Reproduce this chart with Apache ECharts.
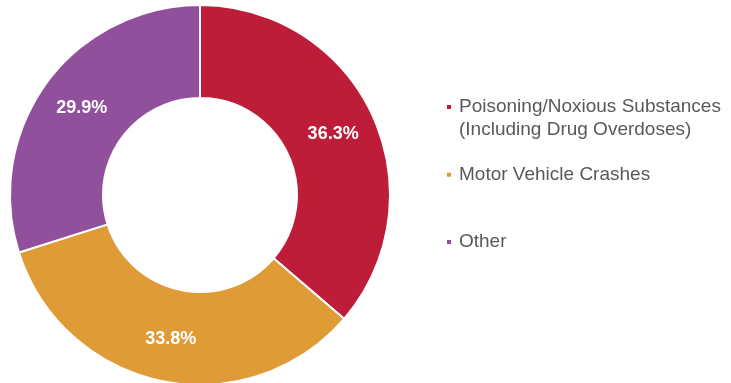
<!DOCTYPE html>
<html><head><meta charset="utf-8">
<script src="https://cdn.jsdelivr.net/npm/echarts@6/dist/echarts.min.js"></script>
<style>html,body{margin:0;padding:0;background:#fff}#c{width:731px;height:383px}</style>
</head><body><div id="c"></div>
<script>
const categories = ['Poisoning/Noxious Substances\n(Including Drug Overdoses)', 'Motor Vehicle Crashes', 'Other'];
const values = [36.3, 33.8, 29.9];
const colors = ['#BD1D39', '#DF9B36', '#91509C'];
const legendTops = [90.5, 158.2, 225.5];

const chart = echarts.init(document.getElementById('c'), null, {renderer: 'canvas'});
const legends = categories.map((name, i) => {
  const multi = name.indexOf('\n') >= 0;
  return {
    data: [name],
    left: 440,
    top: legendTops[i],
    orient: 'vertical',
    icon: multi ? 'path://M0,0L6,0L6,6L0,6Z M0,28.99L0.01,28.99L0.01,29L0,29Z' : 'rect',
    itemWidth: 6,
    itemHeight: multi ? 29 : 6,
    itemGap: 0,
    selectedMode: false,
    textStyle: {fontFamily: 'Liberation Sans, Arial, sans-serif', fontSize: 19, color: '#595959', lineHeight: 23, padding: [0,0,0,2]}
  };
});
chart.setOption({
  animation: false,
  legend: legends,
  series: [{
    type: 'pie',
    center: [200, 195],
    radius: [97, 190],
    startAngle: 90,
    clockwise: true,
    avoidLabelOverlap: false,
    itemStyle: {borderColor: '#fff', borderWidth: 2},
    label: {
      show: true, position: 'inside',
      formatter: p => p.value.toFixed(1) + '%',
      color: '#fff', fontFamily: 'Liberation Sans, Arial, sans-serif',
      fontWeight: 'bold', fontSize: 18
    },
    labelLine: {show: false},
    emphasis: {disabled: true},
    data: categories.map((n, i) => ({name: n, value: values[i], itemStyle: {color: colors[i]}}))
  }]
});
</script></body></html>
